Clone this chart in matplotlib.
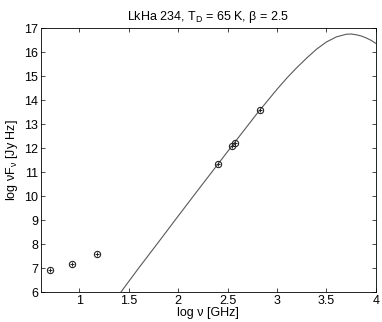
import matplotlib
matplotlib.use("Agg")
import matplotlib.pyplot as plt

# 観測点 (log nu [GHz], log nuF_nu [Jy Hz])
obs_x = [0.70, 0.92, 1.18, 2.40, 2.545, 2.572, 2.826]
obs_y = [6.92, 7.17, 7.60, 11.32, 12.09, 12.20, 13.58]

# モデル曲線
model_x = [1.30, 1.42, 1.60, 1.80, 2.00, 2.20, 2.40, 2.60, 2.80, 3.00, 3.10,
           3.20, 3.30, 3.40, 3.50, 3.60, 3.70, 3.75, 3.80, 3.85, 3.90, 3.95, 4.00]
model_y = [5.35, 6.00, 7.00, 8.08, 9.17, 10.25, 11.32, 12.39, 13.45, 14.45, 14.92,
           15.35, 15.75, 16.12, 16.42, 16.63, 16.74, 16.75, 16.72, 16.67, 16.59, 16.49, 16.36]

xticks = [1, 1.5, 2, 2.5, 3, 3.5, 4]
yticks = list(range(6, 18))

plt.rcParams['font.family'] = ['Liberation Sans', 'DejaVu Sans']
plt.rcParams['mathtext.fontset'] = 'custom'
plt.rcParams['mathtext.rm'] = 'Liberation Sans'
plt.rcParams['mathtext.it'] = 'Liberation Sans'

fig = plt.figure(figsize=(3.82, 3.22), dpi=100)
ax = fig.add_axes([0.107, 0.093, 0.877, 0.82])

ax.plot(model_x, model_y, color='0.35', lw=0.8)
ax.plot(obs_x, obs_y, 'o', mfc='none', mec='0.15', ms=4.5, mew=0.8)
ax.plot(obs_x, obs_y, '+', color='0.15', ms=3, mew=0.7)

ax.set_xlim(0.61, 4)
ax.set_ylim(6, 17)
ax.set_xticks(xticks)
ax.set_xticklabels([f"{t:g}" for t in xticks])
ax.set_yticks(yticks)
ax.tick_params(direction='in', top=True, right=True, labelsize=9, length=3, width=0.5, pad=2)
for s in ax.spines.values():
    s.set_linewidth(0.6)

ax.set_title(r"LkHa 234, T$_{\mathrm{D}}$ = 65 K, β = 2.5", fontsize=9, pad=6)
ax.set_xlabel("log ν [GHz]", fontsize=9, labelpad=0)
ax.set_ylabel(r"log νF$_{\mathrm{ν}}$ [Jy Hz]", fontsize=9, labelpad=3)

plt.savefig("out.png", dpi=100)
